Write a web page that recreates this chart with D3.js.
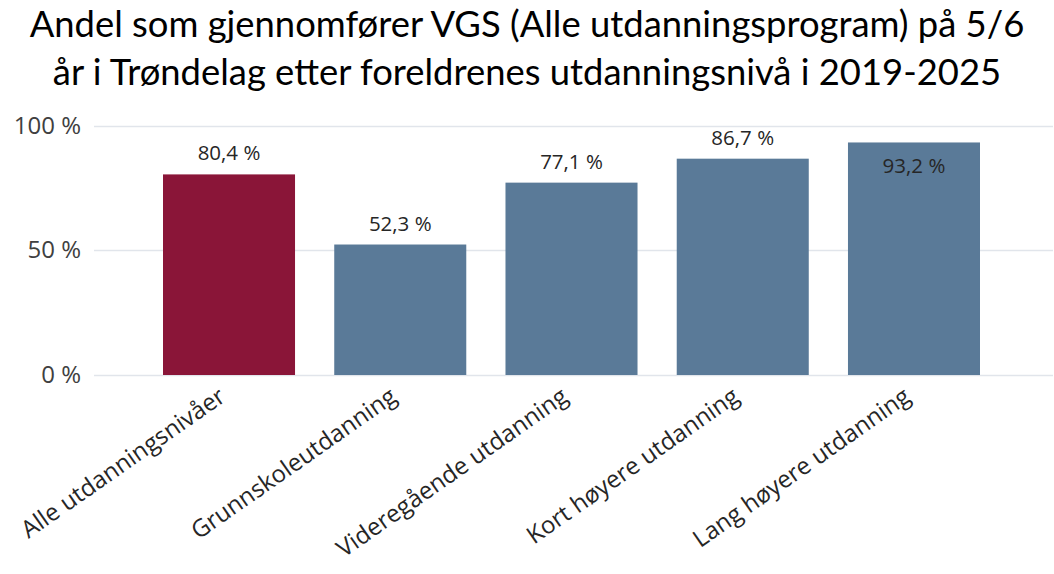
<!DOCTYPE html>
<html>
<head>
<meta charset="utf-8">
<script src="https://cdn.jsdelivr.net/npm/d3@7"></script>
<style>
  body { margin: 0; background: #fff; }
  svg { display: block; }
  .lbl { font-family: "Open Sans", "DejaVu Sans", sans-serif; }
</style>
</head>
<body>
<div id="chart"></div>
<script>
// data
var categories = ["Alle utdanningsnivåer", "Grunnskoleutdanning", "Videregående utdanning",
                  "Kort høyere utdanning", "Lang høyere utdanning"];
var values = [80.4, 52.3, 77.1, 86.7, 93.2];
var barColors = ["#8a1538", "#5a7a98", "#5a7a98", "#5a7a98", "#5a7a98"];
var yTicks = [0, 50, 100];
var titleLines = ["Andel som gjennomfører VGS (Alle utdanningsprogram) på 5/6",
                  "år i Trøndelag etter foreldrenes utdanningsnivå i 2019-2025"];

var W = 1054, H = 574;
var plotTop = 125.5, plotBottom = 375, gridLeft = 94, gridRight = 1053;

var svg = d3.select("#chart")
  .append("svg")
  .attr("width", W)
  .attr("height", H);

// title
var title = svg.append("g");
title.selectAll("text")
  .data(titleLines)
  .enter()
  .append("text")
    .attr("x", W / 2)
    .attr("y", function(d, i) { return 37 + i * 48; })
    .attr("text-anchor", "middle")
    .style("font-family", "Lato, 'Open Sans', sans-serif")
    .attr("font-size", 32)
    .attr("fill", "#000")
    .text(function(d) { return d; });

// fit title width to the reference (first line ~995px wide)
var t0 = title.select("text").node().getComputedTextLength();
title.selectAll("text").attr("font-size", 32 * 995 / t0);

// scales
var x = d3.scaleBand()
  .domain(categories)
  .range([163, 980])
  .paddingInner(0.229)
  .paddingOuter(0);

var y = d3.scaleLinear()
  .domain([0, 100])
  .range([plotBottom, plotTop]);

// grid lines
svg.append("g")
  .selectAll("line")
  .data(yTicks)
  .enter()
  .append("line")
    .attr("x1", gridLeft)
    .attr("x2", gridRight)
    .attr("y1", function(d) { return Math.round(y(d)) + 0.5; })
    .attr("y2", function(d) { return Math.round(y(d)) + 0.5; })
    .attr("stroke", "#e1e5eb")
    .attr("stroke-width", 1.5);

// y axis labels
var yAxis = svg.append("g")
  .attr("transform", "translate(81,0)")
  .call(d3.axisLeft(y).tickValues(yTicks).tickSize(0).tickPadding(0)
    .tickFormat(function(d) { return d + " %"; }));
yAxis.select(".domain").remove();
yAxis.attr("font-family", null).attr("font-size", null);
yAxis.selectAll("text")
  .attr("class", "lbl")
  .attr("font-size", 24)
  .attr("fill", "#404040");

// bars
svg.append("g")
  .selectAll("rect")
  .data(values)
  .enter()
  .append("rect")
    .attr("x", function(d, i) { return x(categories[i]); })
    .attr("y", function(d) { return y(d); })
    .attr("width", x.bandwidth())
    .attr("height", function(d) { return plotBottom - y(d); })
    .attr("fill", function(d, i) { return barColors[i]; });

// value labels (inside the bar when there is no room above)
svg.append("g")
  .selectAll("text")
  .data(values)
  .enter()
  .append("text")
    .attr("class", "lbl")
    .attr("x", function(d, i) { return x(categories[i]) + x.bandwidth() / 2; })
    .attr("y", function(d) {
      var top = y(d);
      return top - 14 < 135 ? top + 31 : top - 14;
    })
    .attr("text-anchor", "middle")
    .attr("font-size", 20.5)
    .attr("fill", "#262626")
    .text(function(d) { return d3.format(".1f")(d).replace(".", ",") + " %"; });

// x axis labels, rotated
var xAxis = svg.append("g")
  .attr("transform", "translate(0," + plotBottom + ")")
  .call(d3.axisBottom(x).tickSize(0).tickPadding(0));
xAxis.select(".domain").remove();
xAxis.attr("font-family", null).attr("font-size", null);
xAxis.selectAll("text")
  .attr("class", "lbl")
  .attr("font-size", 24)
  .attr("fill", "#262626")
  .attr("text-anchor", "end")
  .attr("dy", 0)
  .attr("transform", "translate(-2,25) rotate(-35)");
</script>
</body>
</html>
